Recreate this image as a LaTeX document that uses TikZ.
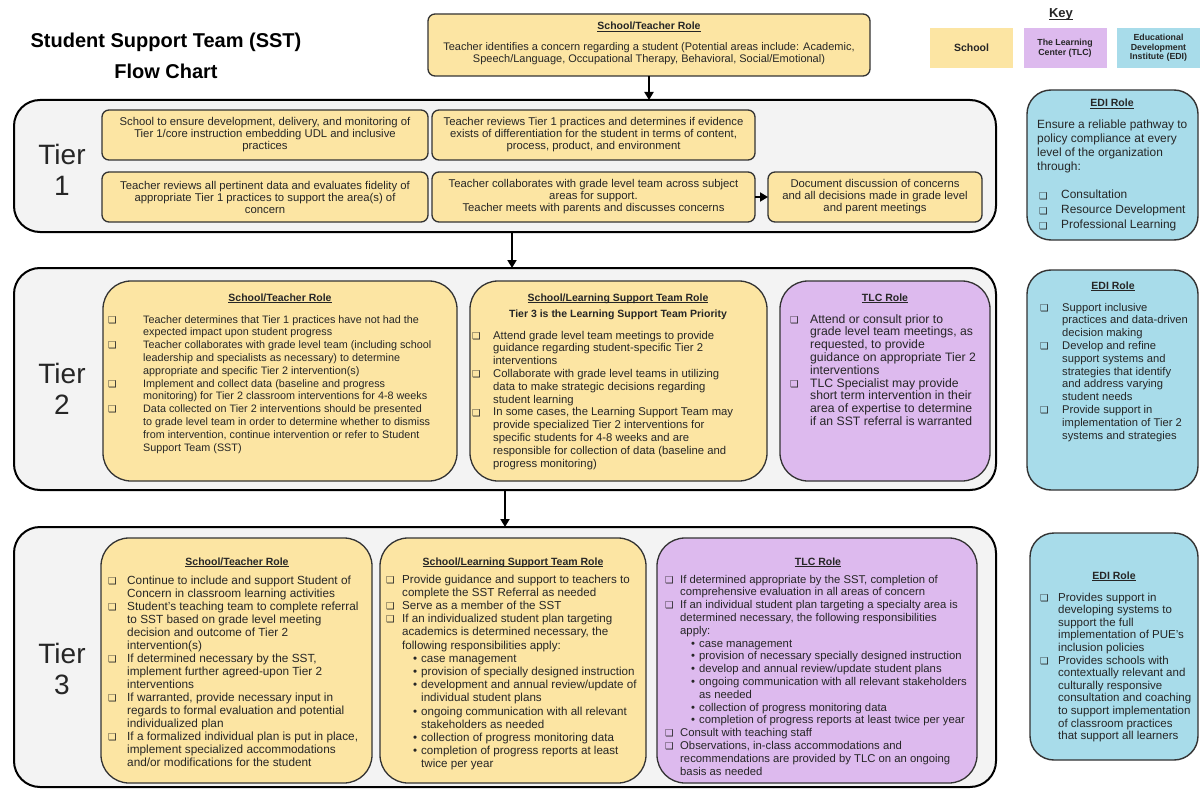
\documentclass[tikz,border=0pt]{standalone}
\usepackage{fontspec}
\setmainfont{Liberation Sans}
\newfontfamily\dejavu{DejaVu Sans}
\usetikzlibrary{arrows.meta}
\definecolor{school}{HTML}{FCE5A3}
\definecolor{tlc}{HTML}{DDBAEE}
\definecolor{edi}{HTML}{A8DCEA}
\definecolor{contfill}{HTML}{F3F3F3}
\definecolor{ink}{HTML}{262626}
\definecolor{edge}{HTML}{333333}
\newlength\hg
\newlength\sbo
\newlength\sbh
\newcommand\cbx{{\dejavu\fontsize{9.5}{9.5}\selectfont\raisebox{-0.2pt}{\char"2751}}}
\newcommand\itm[1]{\par\noindent\hangindent=\hg\hangafter=1\makebox[\hg][l]{\cbx}#1}
\newcommand\sbt[1]{\par\noindent\hangindent=\sbh\hangafter=1\hspace*{\sbo}\makebox[\dimexpr\sbh-\sbo\relax][l]{\textbullet}#1}
\newcommand\ul[1]{\setbox0=\hbox{#1}\rlap{\rule[-1.6pt]{\wd0}{0.7pt}}\box0}
\newcommand\hd[1]{{\fontsize{10.5}{12}\selectfont\bfseries\ul{#1}}}
\newcommand\bx[6]{\node[#1, minimum width={(#5)-(#3)}, minimum height={(#6)-(#4)}] (#2) at ({((#3)+(#5))/2},{((#4)+(#6))/2}) {};}
\tikzset{
  cont/.style={draw=black, line width=2pt, fill=contfill, rounded corners=26pt, inner sep=0pt, outer sep=0pt},
  sbox/.style={draw=edge, line width=1.3pt, fill=school, inner sep=0pt, outer sep=0pt},
  tbox/.style={draw=edge, line width=1.3pt, fill=tlc, inner sep=0pt, outer sep=0pt},
  ebox/.style={draw=edge, line width=1.4pt, fill=edi, inner sep=0pt, outer sep=0pt, rounded corners=24pt},
  small/.style={rounded corners=7pt},
  big/.style={rounded corners=28pt},
  txt/.style={inner sep=0pt, anchor=base west, text=ink},
  hdn/.style={inner sep=0pt, anchor=base, text=ink},
  ctr/.style={inner sep=0pt, align=center, text=ink, font=\fontsize{11.3}{12}\selectfont},
  arr/.style={line width=1.8pt, -{Triangle[length=8pt,width=9pt]}},
  keyb/.style={inner sep=0pt, minimum width=83pt, minimum height=40pt, align=center, font=\bfseries\fontsize{8.8}{9.6}\selectfont, text=ink}
}
\begin{document}
\begin{tikzpicture}[x=1pt,y=-1pt]
\useasboundingbox (0,0) rectangle (1200,789);
\fill[white] (0,0) rectangle (1200,789);

% title
\node[inner sep=0pt, align=center, font=\bfseries\fontsize{20}{31}\selectfont, text=black] (title) at (166,56) {Student Support Team (SST)\\Flow Chart};

% key
\node[hdn, font=\bfseries\fontsize{13}{13}\selectfont] (key) at (1061,18) {\ul{Key}};
\node[keyb, fill=school, font=\bfseries\fontsize{10.5}{12}\selectfont] (kschool) at (971.5,48) {School};
\node[keyb, fill=tlc] (ktlc) at (1065,48) {The Learning\\Center (TLC)};
\node[keyb, fill=edi] (kedi) at (1158.5,48) {Educational\\Development\\Institute (EDI)};

% top box
\bx{sbox, small}{top}{428}{14}{870}{76}
\node[hdn] (toph) at (649,30) {\hd{School/Teacher Role}};
\node[ctr, font=\fontsize{11}{11.8}\selectfont] (topt) at (649,54) {Teacher identifies a concern regarding a student (Potential areas include: Academic,\\Speech/Language, Occupational Therapy, Behavioral, Social/Emotional)};

% ---------- Tier 1
\bx{cont}{t1}{14}{100}{996}{232}
\node[inner sep=0pt, align=center, font=\fontsize{28}{31}\selectfont, text=ink] (l1) at (62,170) {Tier\\1};
\bx{sbox, small}{a}{102}{110}{428}{160}
\bx{sbox, small}{b}{432}{110}{755}{160}
\bx{sbox, small}{c}{102}{172}{428}{222}
\bx{sbox, small}{d}{432}{172}{755}{222}
\bx{sbox, small}{e}{768}{172}{982}{222}
\node[ctr] (at) at (a) {School to ensure development, delivery, and monitoring of\\Tier 1/core instruction embedding UDL and inclusive\\practices};
\node[ctr] (bt) at (b) {Teacher reviews Tier 1 practices and determines if evidence\\exists of differentiation for the student in terms of content,\\process, product, and environment};
\node[ctr] (ct) at (c) {Teacher reviews all pertinent data and evaluates fidelity of\\appropriate Tier 1 practices to support the area(s) of\\concern};
\node[ctr] (dt) at (d) {Teacher collaborates with grade level team across subject\\areas for support.\\Teacher meets with parents and discusses concerns};
\node[ctr] (et) at (e) {Document discussion of concerns\\and all decisions made in grade level\\and parent meetings};

% EDI 1
\bx{ebox}{edi1}{1027}{90}{1198}{240}
\node[hdn] (edi1h) at (1112,107) {\hd{EDI Role}};
\node[txt] (edi1t) at (1037,129) {\parbox[t]{160pt}{\fontsize{11.9}{14}\selectfont\raggedright
Ensure a reliable pathway to\newline policy compliance at every\newline level of the organization\newline through:\par
\vspace{13pt}\fontsize{11.9}{15}\selectfont\setlength\hg{22pt}\leftskip=2pt
\itm{Consultation}\itm{Resource Development}\itm{Professional Learning}}};

% ---------- Tier 2
\bx{cont}{t2}{14}{268}{996}{490}
\node[inner sep=0pt, align=center, font=\fontsize{28}{31}\selectfont, text=ink] (l2) at (62,389) {Tier\\2};
\bx{sbox, big}{t2l}{103}{281}{457}{481}
\bx{sbox, big}{t2m}{470}{281}{767}{481}
\bx{tbox, big}{t2t}{780}{281}{990}{481}
\node[hdn] (t2lh) at (280,301) {\hd{School/Teacher Role}};
\node[txt] (t2lt) at (108,323) {\parbox[t]{380pt}{\fontsize{10.8}{12.8}\selectfont\raggedright\setlength\hg{35pt}%
\itm{Teacher determines that Tier 1 practices have not had the\newline expected impact upon student progress}%
\itm{Teacher collaborates with grade level team (including school\newline leadership and specialists as necessary) to determine\newline appropriate and specific Tier 2 intervention(s)}%
\itm{Implement and collect data (baseline and progress\newline monitoring) for Tier 2 classroom interventions for 4-8 weeks}%
\itm{Data collected on Tier 2 interventions should be presented\newline to grade level team in order to determine whether to dismiss\newline from intervention, continue intervention or refer to Student\newline Support Team (SST)}}};
\node[hdn] (t2mh) at (618,301) {\hd{School/Learning Support Team Role}};
\node[hdn, font=\bfseries\fontsize{10.5}{12}\selectfont] (t2ms) at (618,317) {Tier 3 is the Learning Support Team Priority};
\node[txt] (t2mt) at (472,339) {\parbox[t]{320pt}{\fontsize{11.3}{12.8}\selectfont\raggedright\setlength\hg{21pt}%
\itm{Attend grade level team meetings to provide\newline guidance regarding student-specific Tier 2\newline interventions}%
\itm{Collaborate with grade level teams in utilizing\newline data to make strategic decisions regarding\newline student learning}%
\itm{In some cases, the Learning Support Team may\newline provide specialized Tier 2 interventions for\newline specific students for 4-8 weeks and are\newline responsible for collection of data (baseline and\newline progress monitoring)}}};
\node[hdn] (t2th) at (885,301) {\hd{TLC Role}};
\node[txt] (t2tt) at (790,323) {\parbox[t]{230pt}{\fontsize{12.2}{12.8}\selectfont\raggedright\setlength\hg{20pt}%
\itm{Attend or consult prior to\newline grade level team meetings, as\newline requested, to provide\newline guidance on appropriate Tier 2\newline interventions}%
\itm{TLC Specialist may provide\newline short term intervention in their\newline area of expertise to determine\newline if an SST referral is warranted}}};

% EDI 2
\bx{ebox}{edi2}{1027}{270}{1198}{490}
\node[hdn] (edi2h) at (1113,289) {\hd{EDI Role}};
\node[txt] (edi2t) at (1040,311) {\parbox[t]{170pt}{\fontsize{11.2}{12.8}\selectfont\raggedright\setlength\hg{22pt}%
\itm{Support inclusive\newline practices and data-driven\newline decision making}%
\itm{Develop and refine\newline support systems and\newline strategies that identify\newline and address varying\newline student needs}%
\itm{Provide support in\newline implementation of Tier 2\newline systems and strategies}}};

% ---------- Tier 3
\bx{cont}{t3}{14}{527}{996}{787}
\node[inner sep=0pt, align=center, font=\fontsize{28}{31}\selectfont, text=ink] (l3) at (62,669) {Tier\\3};
\bx{sbox, big}{t3l}{101}{538}{372}{783}
\bx{sbox, big}{t3m}{380}{538}{646}{783}
\bx{tbox, big}{t3t}{657}{538}{977}{783}
\node[hdn] (t3lh) at (237,565) {\hd{School/Teacher Role}};
\node[txt] (t3lt) at (108,584) {\parbox[t]{300pt}{\fontsize{11.8}{13}\selectfont\raggedright\setlength\hg{19pt}%
\itm{Continue to include and support Student of\newline Concern in classroom learning activities}%
\itm{Student’s teaching team to complete referral\newline to SST based on grade level meeting\newline decision and outcome of Tier 2\newline intervention(s)}%
\itm{If determined necessary by the SST,\newline implement further agreed-upon Tier 2\newline interventions}%
\itm{If warranted, provide necessary input in\newline regards to formal evaluation and potential\newline individualized plan}%
\itm{If a formalized individual plan is put in place,\newline implement specialized accommodations\newline and/or modifications for the student}}};
\node[hdn] (t3mh) at (513,565) {\hd{School/Learning Support Team Role}};
\node[txt] (t3mt) at (386,583) {\parbox[t]{300pt}{\fontsize{11.6}{13.2}\selectfont\raggedright\setlength\hg{16pt}\setlength\sbo{27pt}\setlength\sbh{35pt}%
\itm{Provide guidance and support to teachers to\newline complete the SST Referral as needed}%
\itm{Serve as a member of the SST}%
\itm{If an individualized student plan targeting\newline academics is determined necessary, the\newline following responsibilities apply:}%
\sbt{case management}%
\sbt{provision of specially designed instruction}%
\sbt{development and annual review/update of\newline individual student plans}%
\sbt{ongoing communication with all relevant\newline stakeholders as needed}%
\sbt{collection of progress monitoring data}%
\sbt{completion of progress reports at least\newline twice per year}}};
\node[hdn] (t3th) at (818,565) {\hd{TLC Role}};
\node[txt] (t3tt) at (665,583) {\parbox[t]{340pt}{\fontsize{11.3}{12.8}\selectfont\raggedright\setlength\hg{15pt}\setlength\sbo{26pt}\setlength\sbh{34pt}%
\itm{If determined appropriate by the SST, completion of\newline comprehensive evaluation in all areas of concern}%
\itm{If an individual student plan targeting a specialty area is\newline determined necessary, the following responsibilities\newline apply:}%
\sbt{case management}%
\sbt{provision of necessary specially designed instruction}%
\sbt{develop and annual review/update student plans}%
\sbt{ongoing communication with all relevant stakeholders\newline as needed}%
\sbt{collection of progress monitoring data}%
\sbt{completion of progress reports at least twice per year}%
\itm{Consult with teaching staff}%
\itm{Observations, in-class accommodations and\newline recommendations are provided by TLC on an ongoing\newline basis as needed}}};

% EDI 3
\bx{ebox}{edi3}{1030}{533}{1198}{760}
\node[hdn] (edi3h) at (1114,579) {\hd{EDI Role}};
\node[txt] (edi3t) at (1040,601) {\parbox[t]{170pt}{\fontsize{11.5}{12.6}\selectfont\raggedright\setlength\hg{18pt}%
\itm{Provides support in\newline developing systems to\newline support the full\newline implementation of PUE’s\newline inclusion policies}%
\itm{Provides schools with\newline contextually relevant and\newline culturally responsive\newline consultation and coaching\newline to support implementation\newline of classroom practices\newline that support all learners}}};

% arrows
\draw[arr] (top.south) -- (top.south |- t1.north);
\draw[arr] ([xshift=7pt]t1.south) -- ([xshift=7pt]t1.south |- t2.north);
\draw[arr] (t2.south) -- (t2.south |- t3.north);
\draw[arr] (d.east) -- (e.west);
\end{tikzpicture}
\end{document}
